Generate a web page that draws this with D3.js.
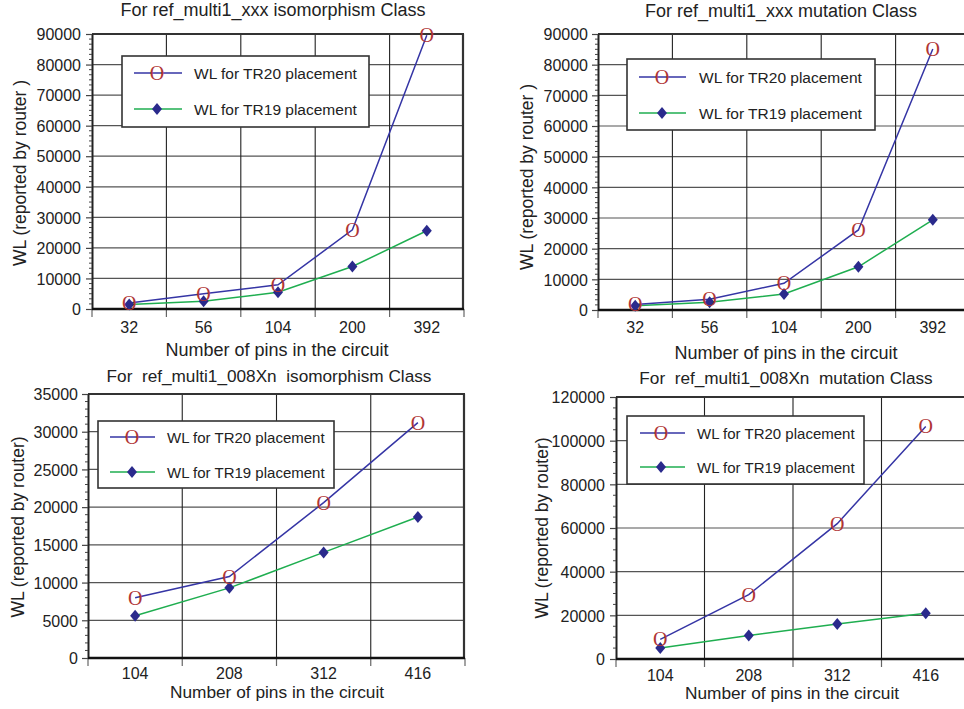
<!DOCTYPE html>
<html><head><meta charset="utf-8">
<script src="https://cdn.jsdelivr.net/npm/d3@7"></script>
<style>
html,body{margin:0;padding:0;background:#fff;}
svg{display:block;font-family:Arial,"Liberation Sans",sans-serif;}
text{white-space:pre;}
</style></head>
<body>
<svg id="c" width="964" height="709"></svg>
<script>
// ---- data ----
const pinsA = ["32","56","104","200","392"];
const pinsB = ["104","208","312","416"];
const isoTR20 = [2000, 5000, 7900, 25900, 89600];
const isoTR19 = [1500, 2500, 5500, 13900, 25600];
const mutTR20 = [1800, 3500, 8700, 26100, 85100];
const mutTR19 = [1400, 2500, 5200, 14100, 29400];
const iso8TR20 = [8000, 10800, 20600, 31200];
const iso8TR19 = [5600, 9300, 14000, 18700];
const mut8TR20 = [9000, 29500, 62000, 106500];
const mut8TR19 = [5000, 10800, 16000, 21000];
const seriesNames = ["WL for TR20 placement", "WL for TR19 placement"];
const titles = ["For ref_multi1_xxx isomorphism Class", "For ref_multi1_xxx mutation Class",
  "For  ref_multi1_008Xn  isomorphism Class", "For  ref_multi1_008Xn  mutation Class"];
const yTitles = ["WL (reported by router )", "WL (reported by router )", "WL (reported by router)", "WL (reported by router)"];
const xTitle = "Number of pins in the circuit";

// ---- layout ----
const panels = [
  {cats:pinsA, a:isoTR20, b:isoTR19, ymax:90000, step:10000, minor:6,
   L:92, R:464, T:34, B:309, title:titles[0], tx:273, ty:16, tfs:18, ytl:yTitles[0], ylx:26, yly:173,
   ytx:81, xty:333, xlx:277, xly:356, xfs:18, leg:{x0:122,x1:369,y0:56,y1:127,r1:73,r2:109,l0:134,l1:182,m:157,t:194}, fs:15.5},
  {cats:pinsA, a:mutTR20, b:mutTR19, ymax:90000, step:10000, minor:6,
   L:598, R:970, T:34, B:310, title:titles[1], tx:781, ty:17, tfs:18, ytl:yTitles[1], ylx:533, yly:177,
   ytx:588, xty:333, xlx:786, xly:359, xfs:18, leg:{x0:627,x1:875,y0:59,y1:130,r1:77,r2:113,l0:639,l1:686,m:662,t:699}, fs:15.5},
  {cats:pinsB, a:iso8TR20, b:iso8TR19, ymax:35000, step:5000, minor:5,
   L:88, R:465, T:394, B:658, title:titles[2], tx:269, ty:382, tfs:17.2, ytl:yTitles[2], ylx:24, yly:527,
   ytx:78, xty:679, xlx:277, xly:698, xfs:17.3, leg:{x0:98,x1:334,y0:421,y1:488,r1:437,r2:472,l0:110,l1:155,m:132,t:167}, fs:15},
  {cats:pinsB, a:mut8TR20, b:mut8TR19, ymax:120000, step:20000, minor:4,
   L:616, R:970, T:397, B:659, title:titles[3], tx:786, ty:384, tfs:17.2, ytl:yTitles[3], ylx:548, yly:528,
   ytx:605, xty:681, xlx:792, xly:699, xfs:17.3, leg:{x0:627,x1:864,y0:416,y1:484,r1:433,r2:467,l0:640,l1:685,m:661,t:697}, fs:15}
];

const svg = d3.select("#c");
const blue = "#3535a5", green = "#1fae50", red = "#b03535", navy = "#2a2a8c";
const diamond = "M0,-6L5,0L0,6L-5,0Z";

function drawO(g, x, y) {
  g.append("text").attr("x", x).attr("y", y + 7)
    .attr("text-anchor", "middle")
    .attr("font-family", "'Liberation Serif','Times New Roman',serif")
    .attr("font-size", 20).attr("fill", red).text("O");
}

panels.forEach(p => {
  const g = svg.append("g");
  const x = d3.scaleBand().domain(p.cats).range([p.L, p.R]).padding(0);
  const y = d3.scaleLinear().domain([0, p.ymax]).range([p.B, p.T]);
  const majors = d3.range(0, p.ymax + 1, p.step);
  const minors = d3.range(0, p.ymax + 1, p.step / p.minor).filter(v => Math.abs(v / p.step - Math.round(v / p.step)) > 1e-6);

  g.selectAll(null).data(majors.slice(1, -1)).join("line")
    .attr("x1", p.L).attr("x2", p.R).attr("y1", d => y(d)).attr("y2", d => y(d))
    .attr("stroke", "#555").attr("stroke-width", 1.2);
  const bounds = p.cats.map(c => x(c)).slice(1);
  g.selectAll(null).data(bounds).join("line")
    .attr("x1", d => d).attr("x2", d => d).attr("y1", p.T).attr("y2", p.B)
    .attr("stroke", "#222").attr("stroke-width", 1.1);
  const allB = p.cats.map(c => x(c)).concat([p.R]);
  g.selectAll(null).data(allB).join("line")
    .attr("x1", d => d).attr("x2", d => d).attr("y1", p.B).attr("y2", p.B + 8)
    .attr("stroke", "#666").attr("stroke-width", 1.2);
  g.append("line").attr("x1", p.L).attr("x2", p.R).attr("y1", p.T).attr("y2", p.T).attr("stroke", "#333").attr("stroke-width", 2.2);
  g.append("line").attr("x1", p.R - 1).attr("x2", p.R - 1).attr("y1", p.T).attr("y2", p.B).attr("stroke", "#333").attr("stroke-width", 2.2);

  const ya = d3.axisLeft(y).tickValues(majors).tickSize(6).tickSizeOuter(0).tickFormat(d3.format("d"));
  const yg = g.append("g").attr("transform", `translate(${p.L},0)`).call(ya);
  yg.select(".domain").attr("stroke", "#222").attr("stroke-width", 2);
  yg.selectAll(".tick line").attr("stroke", "#444").attr("stroke-width", 1.2);
  yg.selectAll(".tick text").attr("font-size", 16).attr("fill", "#222").attr("x", p.ytx - p.L).attr("dy", "0.36em")
    .attr("font-family", "Arial,'Liberation Sans',sans-serif");
  g.selectAll(null).data(minors).join("line")
    .attr("x1", p.L - 3).attr("x2", p.L).attr("y1", d => y(d)).attr("y2", d => y(d))
    .attr("stroke", "#444").attr("stroke-width", 1);

  g.append("line").attr("x1", p.L).attr("x2", p.R).attr("y1", p.B).attr("y2", p.B).attr("stroke", "#111").attr("stroke-width", 2.4);
  const xa = d3.axisBottom(x).tickSize(0);
  const xg = g.append("g").attr("transform", `translate(0,${p.B})`).call(xa);
  xg.select(".domain").remove();
  xg.selectAll(".tick text").attr("font-size", 16).attr("fill", "#222").attr("y", p.xty - p.B).attr("dy", 0)
    .attr("font-family", "Arial,'Liberation Sans',sans-serif");

  g.append("text").attr("x", p.tx).attr("y", p.ty).attr("text-anchor", "middle").attr("font-size", p.tfs).attr("fill", "#222").text(p.title);
  g.append("text").attr("x", p.xlx).attr("y", p.xly).attr("text-anchor", "middle").attr("font-size", p.xfs).attr("fill", "#222").text(xTitle);
  g.append("text").attr("transform", `translate(${p.ylx},${p.yly}) rotate(-90)`).attr("text-anchor", "middle")
    .attr("font-size", 17.5).attr("fill", "#222").text(p.ytl);

  const cx = (d, i) => x(p.cats[i]) + x.bandwidth() / 2;
  const line = d3.line().x(cx).y(d => y(d));
  g.append("path").datum(p.b).attr("d", line).attr("fill", "none").attr("stroke", green).attr("stroke-width", 1.5);
  g.append("path").datum(p.a).attr("d", line).attr("fill", "none").attr("stroke", blue).attr("stroke-width", 1.5);
  p.b.forEach((d, i) => g.append("path").attr("d", diamond).attr("transform", `translate(${cx(d, i)},${y(d)})`).attr("fill", navy));
  p.a.forEach((d, i) => drawO(g, cx(d, i), y(d)));

  const l = p.leg;
  g.append("rect").attr("x", l.x0).attr("y", l.y0).attr("width", l.x1 - l.x0).attr("height", l.y1 - l.y0)
    .attr("fill", "#fff").attr("stroke", "#333").attr("stroke-width", 1.6);
  g.append("line").attr("x1", l.l0).attr("x2", l.l1).attr("y1", l.r1).attr("y2", l.r1).attr("stroke", blue).attr("stroke-width", 1.5);
  drawO(g, l.m, l.r1);
  g.append("line").attr("x1", l.l0).attr("x2", l.l1).attr("y1", l.r2).attr("y2", l.r2).attr("stroke", green).attr("stroke-width", 1.5);
  g.append("path").attr("d", diamond).attr("transform", `translate(${l.m},${l.r2})`).attr("fill", navy);
  g.append("text").attr("x", l.t).attr("y", l.r1 + 5.5).attr("font-size", p.fs).attr("fill", "#222").text(seriesNames[0]);
  g.append("text").attr("x", l.t).attr("y", l.r2 + 5.5).attr("font-size", p.fs).attr("fill", "#222").text(seriesNames[1]);
});
</script>
</body></html>
